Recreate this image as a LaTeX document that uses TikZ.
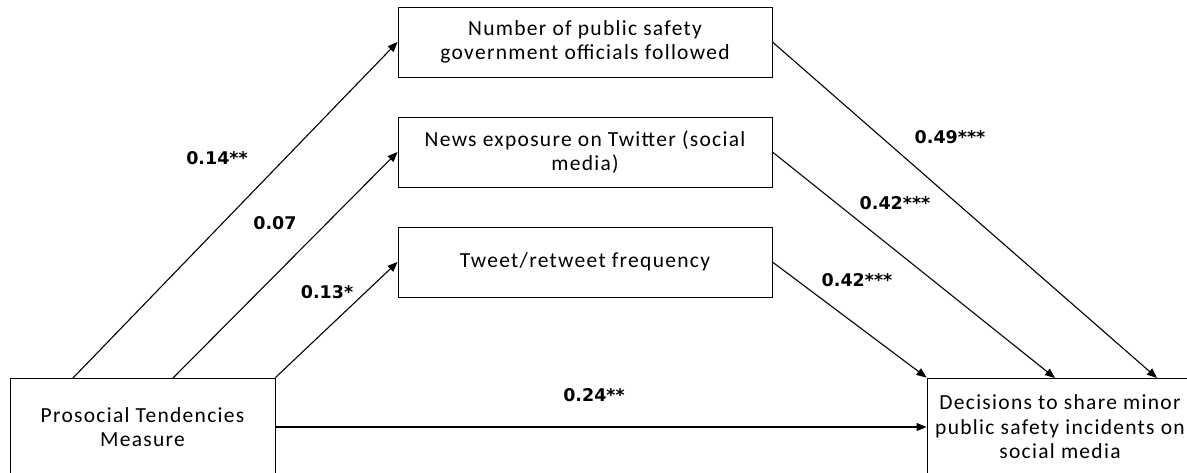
\documentclass[tikz,border=0pt]{standalone}
\usepackage{fontspec}
\setmainfont{Carlito}[LetterSpace=6]
\newfontfamily\labfont{DejaVu Sans}
\usetikzlibrary{arrows.meta}

\tikzset{
  box/.style={rectangle, draw, line width=0.9pt, align=center, font=\fontsize{21.5}{24.5}\selectfont},
  path/.style={line width=1.1pt, -{Triangle[length=10pt,width=8pt]}},
  coef/.style={font=\labfont\bfseries\fontsize{17.5}{20}\selectfont}
}

\begin{document}
\begin{tikzpicture}[x=1pt,y=-1pt]
          % Variables
          \def \medx   {585}
          \def \medw   {374}
          \def \medh   {70}

          \useasboundingbox (0,0) rectangle (1187,472);

          % Rectangles
          \node[box, minimum width=\medw pt, minimum height=\medh pt] (officials) at (\medx,42) {Number of public safety\\government officials followed};
          \node[box, minimum width=\medw pt, minimum height=\medh pt] (news) at (\medx,152) {News exposure on Twitter (social\\media)};
          \node[box, minimum width=\medw pt, minimum height=\medh pt] (tweet) at (\medx,262) {Tweet/retweet frequency};
          \node[box, minimum width=265pt, minimum height=98pt] (ptm) at (142.5,427) {Prosocial Tendencies\\Measure};
          \node[box, minimum width=266pt, minimum height=98pt] (share) at (1060,427) {Decisions to share minor\\public safety incidents on\\social media};

          % Arrow ends
          \coordinate (s1) at (73,378);
          \coordinate (s2) at (173,378);
          \coordinate (e2) at (1055,378);
          \coordinate (e1) at (1157,378);

          % Paths
          \draw[path] (s1) -- (officials.west);
          \draw[path] (s2) -- (news.west);
          \draw[path] (ptm.north east) -- (tweet.west);
          \draw[path] (officials.east) -- (e1);
          \draw[path] (news.east) -- (e2);
          \draw[path] (tweet.east) -- (share.north west);
          \draw[path] (ptm.east) -- (share.west);

          % Coefficients
          \node[coef] (c1) at (217,158) {0.14**};
          \node[coef] (c2) at (275,223) {0.07};
          \node[coef] (c3) at (327,292) {0.13*};
          \node[coef] (c4) at (950,137) {0.49***};
          \node[coef] (c5) at (895,203) {0.42***};
          \node[coef] (c6) at (857,280) {0.42***};
          \node[coef] (c7) at (594,395) {0.24**};

        \end{tikzpicture}
\end{document}
